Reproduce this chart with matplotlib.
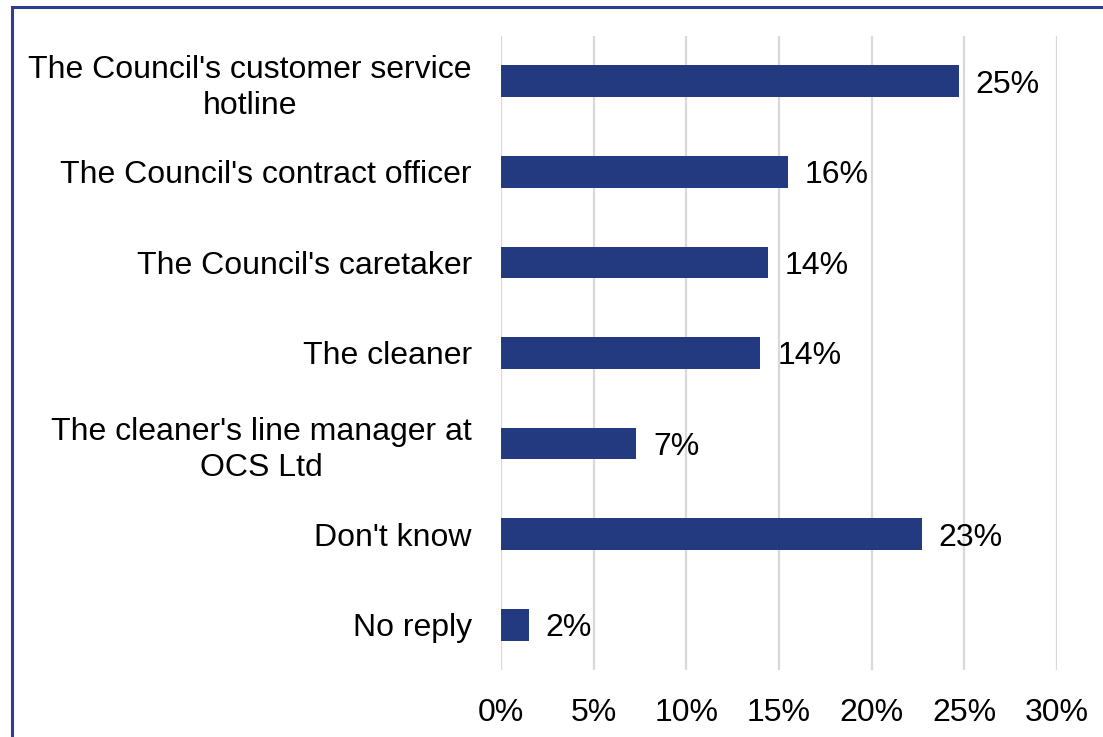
import matplotlib.pyplot as plt
from matplotlib.patches import Rectangle

plt.rcParams['font.family'] = ['Liberation Sans', 'DejaVu Sans']

NAVY = "#233a80"

categories = [
    "The Council's customer service\nhotline",
    "The Council's contract officer",
    "The Council's caretaker",
    "The cleaner",
    "The cleaner's line manager at\nOCS Ltd",
    "Don't know",
    "No reply",
]
shares = [24.7, 15.5, 14.4, 14.0, 7.3, 22.7, 1.5]
x_ticks = [0, 5, 10, 15, 20, 25, 30]


def main() -> None:
    fig = plt.figure(figsize=(11.03, 7.37), dpi=100)
    ax = fig.add_axes([0.4542, 0.0909, 0.5041, 0.8603])

    pos = list(range(len(categories)))
    bars = ax.barh(pos, shares, height=0.35, color=NAVY, zorder=3)
    texts = ax.bar_label(bars, labels=[f"{v:.0f}%" for v in shares], padding=12, fontsize=23)
    for t in texts:
        t.set_va('center_baseline')

    ax.set_ylim(len(categories) - 0.5, -0.5)
    ax.set_xlim(0, 30)
    ax.set_yticks(pos)
    ax.set_yticklabels(categories, fontsize=23, linespacing=1.25)
    for lab in ax.get_yticklabels():
        lab.set_multialignment('center')
    ax.set_xticks(x_ticks)
    ax.set_xticklabels([f"{t}%" for t in x_ticks], fontsize=23)
    ax.tick_params(axis='y', length=0, pad=21)
    ax.tick_params(axis='x', length=0, pad=20)

    ax.grid(axis='x', color='#d9d9d9', linewidth=1.6, zorder=0)
    for side in ax.spines.values():
        side.set_visible(False)

    # outer frame, open towards the right and bottom edges
    fig.add_artist(Rectangle((0.0109, -0.2), 1.5, 1.1905, transform=fig.transFigure,
                             fill=False, edgecolor="#2b3f8c", linewidth=2.2,
                             clip_on=False))

    fig.savefig("out.png", dpi=100, facecolor='white')


if __name__ == "__main__":
    main()
